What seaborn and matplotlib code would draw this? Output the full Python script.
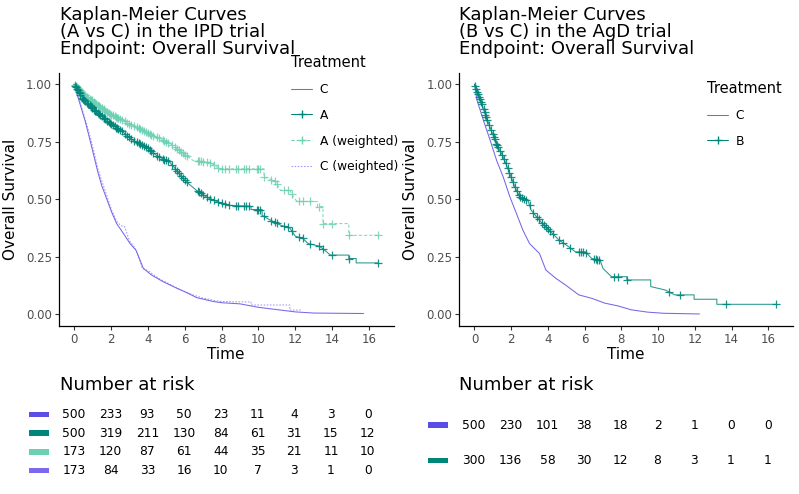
import numpy as np
import matplotlib
matplotlib.use("Agg")
import matplotlib.pyplot as plt
import seaborn as sns
from matplotlib.lines import Line2D
from matplotlib.patches import Rectangle
import matplotlib.transforms as mtransforms

# ---- curve points (time, survival) ----
# left panel: IPD trial, A vs C
c_t = [0, 0.33, 0.6, 0.83, 1.05, 1.27, 1.5, 1.77, 2.04, 2.31, 2.68, 3.04, 3.36, 3.58, 3.76,
       4.21, 4.84, 5.57, 6.11, 6.65, 7.56, 8.0, 9.0, 10.0, 11.0, 12.0, 13.0, 15.7]
c_s = [1.0, 0.913, 0.841, 0.769, 0.697, 0.625, 0.56, 0.502, 0.444, 0.394, 0.351, 0.307, 0.278,
       0.235, 0.199, 0.17, 0.141, 0.113, 0.094, 0.072, 0.055, 0.05, 0.045, 0.03, 0.02, 0.01, 0.005, 0.003]

cw_t = [0, 0.33, 0.6, 0.85, 1.1, 1.3, 1.55, 1.8, 2.05, 2.35, 2.55, 2.75, 3.0, 3.3, 3.5, 3.7, 4.0,
        4.6, 5.2, 5.8, 6.4, 7.0, 7.6, 8.0, 9.6, 9.6, 11.7, 11.7, 12.3]
cw_s = [1.0, 0.92, 0.85, 0.78, 0.70, 0.63, 0.57, 0.51, 0.45, 0.40, 0.385, 0.38, 0.32, 0.29, 0.25,
        0.20, 0.19, 0.155, 0.13, 0.105, 0.085, 0.07, 0.06, 0.055, 0.053, 0.04, 0.04, 0.018, 0.018]

a_t = [0, 0.5, 1.05, 1.59, 2.13, 2.68, 3.22, 3.94, 4.48, 5.2, 5.57, 6.02, 6.65, 7.2, 7.83, 8.46,
       9.6, 9.6, 10.2, 10.2, 10.6, 11.2, 11.7, 12.0, 12.4, 12.7, 13.3, 13.6, 13.9, 14.9, 14.9,
       15.3, 15.3, 16.5]
a_s = [1.0, 0.935, 0.892, 0.855, 0.82, 0.79, 0.755, 0.726, 0.69, 0.66, 0.625, 0.58, 0.538, 0.509,
       0.487, 0.473, 0.469, 0.455, 0.455, 0.43, 0.411, 0.387, 0.375, 0.339, 0.33, 0.307, 0.296,
       0.278, 0.257, 0.257, 0.242, 0.242, 0.223, 0.223]

aw_t = [0, 0.5, 1.23, 1.95, 2.86, 3.76, 4.66, 5.39, 5.93, 6.47, 7.38, 7.9, 10.3, 10.3, 10.9,
        11.2, 11.7, 11.9, 12.1, 13.2, 13.2, 13.5, 13.5, 14.9, 14.9, 16.5]
aw_s = [1.0, 0.957, 0.913, 0.87, 0.834, 0.798, 0.762, 0.733, 0.697, 0.668, 0.66, 0.632, 0.632,
        0.596, 0.58, 0.538, 0.538, 0.509, 0.49, 0.49, 0.468, 0.468, 0.394, 0.394, 0.343, 0.343]

a_cens = [0.05, 0.1, 0.15, 0.2, 0.25, 0.3, 0.35, 0.45, 0.5, 0.55, 0.6, 0.7, 0.75, 0.85, 0.9,
          0.95, 1.0, 1.1, 1.15, 1.2, 1.3, 1.35, 1.4, 1.5, 1.6, 1.65, 1.7, 1.8, 1.9, 1.95, 2.0,
          2.1, 2.2, 2.3, 2.35, 2.4, 2.5, 2.6, 2.75, 2.9, 3.0, 3.1, 3.25, 3.4, 3.5, 3.6, 3.7,
          3.8, 3.9, 4.0, 4.1, 4.2, 4.3, 4.5, 4.6, 4.8, 4.9, 5.0, 5.1, 5.3, 5.5, 5.6, 5.7, 5.8,
          5.9, 6.0, 6.1, 6.7, 6.8, 6.9, 7.0, 7.2, 7.4, 7.6, 7.8, 8.0, 8.2, 8.4, 8.8, 8.9, 9.2,
          9.3, 9.5, 9.9, 10.0, 10.1, 10.3, 10.7, 10.9, 11.0, 11.4, 11.6, 11.8, 12.2, 12.4,
          12.8, 13.3, 13.5, 14.0, 14.9, 16.5]

# right panel: AgD trial, B vs C
c2_t = [0, 0.14, 0.5, 0.86, 1.21, 1.57, 1.93, 2.29, 2.64, 3.0, 3.54, 3.89, 4.43, 4.96, 5.68,
        6.39, 7.1, 7.82, 8.54, 9.43, 10.3, 12.25]
c2_s = [1.0, 0.93, 0.84, 0.755, 0.668, 0.596, 0.51, 0.437, 0.365, 0.307, 0.264, 0.192, 0.156,
        0.127, 0.084, 0.069, 0.048, 0.036, 0.019, 0.009, 0.004, 0.001]

b_t = [0, 0.05, 0.32, 0.59, 0.86, 1.21, 1.57, 1.93, 2.2, 2.46, 2.91, 3.09, 3.54, 4.07, 4.61,
       5.14, 5.5, 6.04, 6.39, 6.84, 7.0, 7.46, 8.3, 8.3, 9.6, 9.6, 10.4, 10.9, 11.96, 11.96,
       13.2, 13.2, 16.4]
b_s = [1.0, 0.99, 0.93, 0.87, 0.81, 0.74, 0.683, 0.61, 0.553, 0.51, 0.495, 0.452, 0.408, 0.365,
       0.322, 0.293, 0.271, 0.271, 0.242, 0.235, 0.199, 0.163, 0.163, 0.149, 0.149, 0.12, 0.105,
       0.084, 0.084, 0.065, 0.065, 0.043, 0.043]

b_cens = [0.05, 0.1, 0.15, 0.2, 0.25, 0.3, 0.35, 0.4, 0.5, 0.55, 0.6, 0.65, 0.7, 0.8, 0.9, 1.0,
          1.05, 1.1, 1.2, 1.25, 1.3, 1.4, 1.5, 1.6, 1.7, 1.8, 1.9, 2.0, 2.1, 2.2, 2.3, 2.4, 2.5,
          2.6, 2.7, 2.8, 3.0, 3.2, 3.4, 3.5, 3.7, 3.8, 3.9, 4.0, 4.1, 4.3, 4.6, 4.8, 5.2, 5.7,
          5.8, 5.9, 6.1, 6.5, 6.6, 6.7, 6.8, 7.6, 7.8, 8.3, 10.6, 11.2, 13.7, 16.4]

# ---- number at risk ----
risk_times = [0, 2, 4, 6, 8, 10, 12, 14, 16]
risk_left = [
    [500, 233, 93, 50, 23, 11, 4, 3, 0],      # C
    [500, 319, 211, 130, 84, 61, 31, 15, 12],  # A
    [173, 120, 87, 61, 44, 35, 21, 11, 10],    # A (weighted)
    [173, 84, 33, 16, 10, 7, 3, 1, 0],         # C (weighted)
]
risk_right = [
    [500, 230, 101, 38, 18, 2, 1, 0, 0],       # C
    [300, 136, 58, 30, 12, 8, 3, 1, 1],        # B
]

titles = ["Kaplan-Meier Curves\n(A vs C) in the IPD trial\nEndpoint: Overall Survival",
          "Kaplan-Meier Curves\n(B vs C) in the AgD trial\nEndpoint: Overall Survival"]

col_c = "#5B4DE6"
col_a = "#00857A"
col_aw = "#6CD0B3"
col_cw = "#7B68EE"

sns.set_theme(style="ticks")
plt.rcParams["font.family"] = ["DejaVu Sans"]
plt.rcParams["text.color"] = "black"
plt.rcParams["axes.labelcolor"] = "black"

W, H = 799, 494
fig = plt.figure(figsize=(W / 100, H / 100), dpi=100)


def px_box(x0, y0, x1, y1):
    return [x0 / W, 1 - y1 / H, (x1 - x0) / W, (y1 - y0) / H]


ax1 = fig.add_axes(px_box(58.8, 72.7, 393.5, 325.7))
ax2 = fig.add_axes(px_box(459.3, 72.7, 792.6, 325.7))


def km_line(ax, t, s, color, ls="-", lw=0.75, alpha=0.85):
    sns.lineplot(x=t, y=s, ax=ax, color=color, linestyle=ls, linewidth=lw,
                 alpha=alpha, sort=False, estimator=None)


def censor(ax, cens, t, s, color, alpha=0.9):
    cy = np.interp(cens, t, s)
    sns.scatterplot(x=cens, y=cy, ax=ax, marker="+", s=40, color=color,
                    linewidth=0.9, alpha=alpha, zorder=3)


km_line(ax1, c_t, c_s, col_c)
km_line(ax1, cw_t, cw_s, col_cw, ls=(0, (1.5, 1.5)), alpha=0.7)
km_line(ax1, aw_t, aw_s, col_aw, ls=(0, (3, 2)))
censor(ax1, [x for x in a_cens if x <= aw_t[-1]], aw_t, aw_s, col_aw, alpha=0.85)
km_line(ax1, a_t, a_s, col_a)
censor(ax1, a_cens, a_t, a_s, col_a)

km_line(ax2, c2_t, c2_s, col_c)
km_line(ax2, b_t, b_s, col_a)
censor(ax2, b_cens, b_t, b_s, col_a)

for ax, title, x0 in [(ax1, titles[0], 60), (ax2, titles[1], 459.3)]:
    ax.set_xlim(-0.825, 17.325)
    ax.set_ylim(-0.05, 1.05)
    ax.set_xticks(risk_times)
    ax.set_yticks([0, 0.25, 0.5, 0.75, 1.0])
    ax.set_yticklabels(["0.00", "0.25", "0.50", "0.75", "1.00"])
    ax.tick_params(labelsize=8.5, labelcolor="#4D4D4D", length=3, width=0.8,
                   color="#333333", pad=2)
    for side in ["top", "right"]:
        ax.spines[side].set_visible(False)
    for side in ["left", "bottom"]:
        ax.spines[side].set_linewidth(0.9)
        ax.spines[side].set_color("black")
    ax.set_xlabel("Time", fontsize=11, labelpad=1)
    ax.set_ylabel("Overall Survival", fontsize=11, labelpad=6)
    fig.text(x0 / W, 1 - 6.5 / H, title, fontsize=13, va="top", ha="left", linespacing=0.92)

# legends
h_c = Line2D([], [], color=col_c, lw=0.75, alpha=0.85)
h_a = Line2D([], [], color=col_a, lw=0.75, marker="+", markersize=5.5)
h_aw = Line2D([], [], color=col_aw, lw=0.75, ls=(0, (3, 2)), marker="+", markersize=5.5)
h_cw = Line2D([], [], color=col_cw, lw=0.75, ls=(0, (1.5, 1.5)), alpha=0.7)

leg_kw = dict(frameon=False, fontsize=8.8, title_fontsize=10.5, handlelength=1.7,
              labelspacing=1.05, borderpad=0, handletextpad=0.65, alignment="left",
              loc="upper left", bbox_transform=fig.transFigure)
ax1.legend([h_c, h_a, h_aw, h_cw], ["C", "A", "A (weighted)", "C (weighted)"],
           title="Treatment", bbox_to_anchor=(285 / W, 1 - 49 / H), **leg_kw)
ax2.legend([h_c, h_a], ["C", "B"],
           title="Treatment", bbox_to_anchor=(701 / W, 1 - 75 / H), **leg_kw)

# risk tables
tabs = [
    (px_box(58.85, 400, 392.0, 490), risk_left, [col_c, col_a, col_aw, col_cw], (-0.03, 4.76), 60, 29),
    (px_box(458.85, 400, 792.0, 490), risk_right, [col_c, col_a], (0.18, 2.70), 459.3, 428),
]
for box, rows, cols, ylim, tx, patch_x in tabs:
    tax = fig.add_axes(box)
    tax.set_xlim(-0.825, 17.325)
    tax.set_ylim(*ylim)
    tax.axis("off")
    n = len(rows)
    # patch height of ~5.5 px in data units of this table
    ph = 5.5 / (90 / (ylim[1] - ylim[0]))
    trans = mtransforms.blended_transform_factory(fig.transFigure, tax.transData)
    for i, (vals, col) in enumerate(zip(rows, cols)):
        yrow = n - i
        for t, v in zip(risk_times, vals):
            tax.text(t, yrow, str(v), ha="center", va="center", fontsize=8.8, color="black")
        fig.add_artist(Rectangle((patch_x / W, yrow - ph / 2), 20 / W, ph,
                                 transform=trans, color=col, lw=0))
    fig.text(tx / W, 1 - 385 / H, "Number at risk", fontsize=13, va="center", ha="left")

fig.savefig("out.png", dpi=100)
